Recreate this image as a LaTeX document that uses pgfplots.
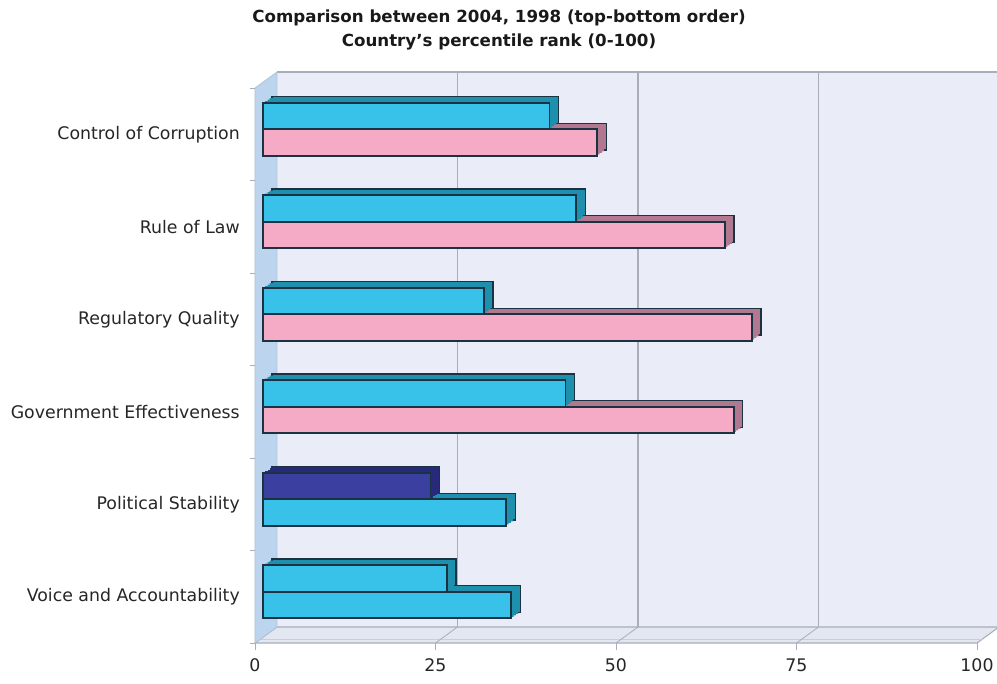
\documentclass[border=0pt]{standalone}
\usepackage{fontspec}
\setmainfont{DejaVu Sans}
\usepackage{pgfplots}
\usepackage{pgfplotstable}
\pgfplotsset{compat=1.18}

\definecolor{cyanF}{HTML}{38C2EA}
\definecolor{cyanS}{HTML}{1F8FAE}
\definecolor{pinkF}{HTML}{F5AAC6}
\definecolor{pinkS}{HTML}{B27890}
\definecolor{navyF}{HTML}{3B3F9F}
\definecolor{navyS}{HTML}{262A78}
\definecolor{edge}{HTML}{1B3242}
\definecolor{wall}{HTML}{EAEDF8}
\definecolor{floorc}{HTML}{E3E7F1}
\definecolor{sidewall}{HTML}{BDD4EF}
\definecolor{gridc}{HTML}{A7ADBA}

% 2004 values (upper bar of each pair)
\pgfplotstableread{
idx value
0 25.5
2 41.9
3 30.6
4 43.4
5 39.7
}\newcyan
\pgfplotstableread{
idx value
1 23.2
}\newnavy
% 1998 values (lower bar of each pair)
\pgfplotstableread{
idx value
0 34.4
1 33.7
}\oldcyan
\pgfplotstableread{
idx value
2 65.2
3 67.7
4 64.0
5 46.3
}\oldpink

\pgfplotsset{
  barbase/.style={xbar, bar width=19.9pt, forget plot},
}
% extruded part of a bar: several copies stepping back in depth
\newcommand\sidebars[3]{%
  \addplot[barbase, bar shift=#3, fill=#2, draw=edge, line width=1.1pt, xshift=12.75pt, yshift=8.25pt] table[x=value,y=idx]{#1};
  \addplot[barbase, bar shift=#3, fill=#2, draw=none, xshift=11.06pt, yshift=7.13pt] table[x=value,y=idx]{#1};
  \addplot[barbase, bar shift=#3, fill=#2, draw=none, xshift=9.38pt, yshift=6pt] table[x=value,y=idx]{#1};
  \addplot[barbase, bar shift=#3, fill=#2, draw=none, xshift=7.69pt, yshift=4.88pt] table[x=value,y=idx]{#1};
}
\newcommand\frontbars[3]{%
  \addplot[barbase, bar shift=#3, fill=#2, draw=edge, line width=1.3pt, xshift=6pt, yshift=3.75pt] table[x=value,y=idx]{#1};
}

\begin{document}
\begin{tikzpicture}
\path[use as bounding box] (-191.25pt,-30pt) rectangle (556.5pt,482.25pt);
\begin{axis}[
  at={(0,0)}, anchor=south west,
  scale only axis, width=541.5pt, height=416.25pt,
  xmin=0, xmax=100, ymin=-0.5, ymax=5.5,
  clip=false,
  axis line style={draw=none},
  major tick length=0pt,
  xtick={0,25,50,75,100},
  xtick pos=bottom,
  ytick={0,...,5},
  ytick pos=left,
  yticklabels={Voice and Accountability, Political Stability, Government Effectiveness, Regulatory Quality, Rule of Law, Control of Corruption},
  tick style={draw=none},
  ticklabel style={font=\fontsize{13}{15}\selectfont, text=black!85},
  xticklabel style={anchor=north, inner sep=0pt, yshift=-11.5pt},
  yticklabel style={anchor=east, inner sep=0pt, xshift=-11.25pt},
  /pgf/number format/assume math mode=true,
]
% back wall
\fill[wall] ([shift={(16.5pt,12pt)}]axis cs:0,-0.5) rectangle ([shift={(16.5pt,12pt)}]axis cs:100,5.5);
\draw[gridc, line width=1pt] ([shift={(16.5pt,12pt)}]axis cs:0,5.5) -- ([shift={(16.5pt,12pt)}]axis cs:100,5.5);
% floor
\filldraw[fill=floorc, draw=gridc, line width=0.8pt] (axis cs:0,-0.5) -- (axis cs:100,-0.5) -- ([shift={(16.5pt,12pt)}]axis cs:100,-0.5) -- ([shift={(16.5pt,12pt)}]axis cs:0,-0.5) -- cycle;
\draw[gridc!60, line width=0.6pt] ([shift={(4pt,3pt)}]axis cs:0,-0.5) -- ([shift={(4pt,3pt)}]axis cs:100,-0.5);
% grid lines on the back wall and the floor
\pgfplotsinvokeforeach{25,50,75}{
  \draw[gridc, line width=0.8pt] ([shift={(16.5pt,12pt)}]axis cs:#1,-0.5) -- ([shift={(16.5pt,12pt)}]axis cs:#1,5.5);
  \draw[gridc, line width=0.6pt] (axis cs:#1,-0.5) -- ([shift={(16.5pt,12pt)}]axis cs:#1,-0.5);
}
% x tick marks
\pgfplotsinvokeforeach{0,25,50,75,100}{
  \draw[gridc, line width=0.6pt] (axis cs:#1,-0.5) -- ([shift={(0pt,-5.5pt)}]axis cs:#1,-0.5);
}
% left wall
\filldraw[fill=sidewall, draw=sidewall!80!gray, line width=0.6pt] (axis cs:0,-0.5) -- (axis cs:0,5.5) -- ([shift={(16.5pt,12pt)}]axis cs:0,5.5) -- ([shift={(16.5pt,12pt)}]axis cs:0,-0.5) -- cycle;
\pgfplotsinvokeforeach{-0.5,0.5,1.5,2.5,3.5,4.5,5.5}{
  \draw[gridc, line width=0.6pt] (axis cs:0,#1) -- ([shift={(-3.75pt,0pt)}]axis cs:0,#1);
}
% 1998 bars
\sidebars{\oldcyan}{cyanS}{-9.95pt}
\sidebars{\oldpink}{pinkS}{-9.95pt}
\frontbars{\oldcyan}{cyanF}{-9.95pt}
\frontbars{\oldpink}{pinkF}{-9.95pt}
% 2004 bars
\sidebars{\newcyan}{cyanS}{9.95pt}
\sidebars{\newnavy}{navyS}{9.95pt}
\frontbars{\newcyan}{cyanF}{9.95pt}
\frontbars{\newnavy}{navyF}{9.95pt}
\end{axis}
\node[font=\bfseries\fontsize{12.5}{18}\selectfont, align=center, text=black!90] at (183pt,459.75pt)
  {Comparison between 2004, 1998 (top-bottom order)\\Country's percentile rank (0-100)};
\end{tikzpicture}
\end{document}
